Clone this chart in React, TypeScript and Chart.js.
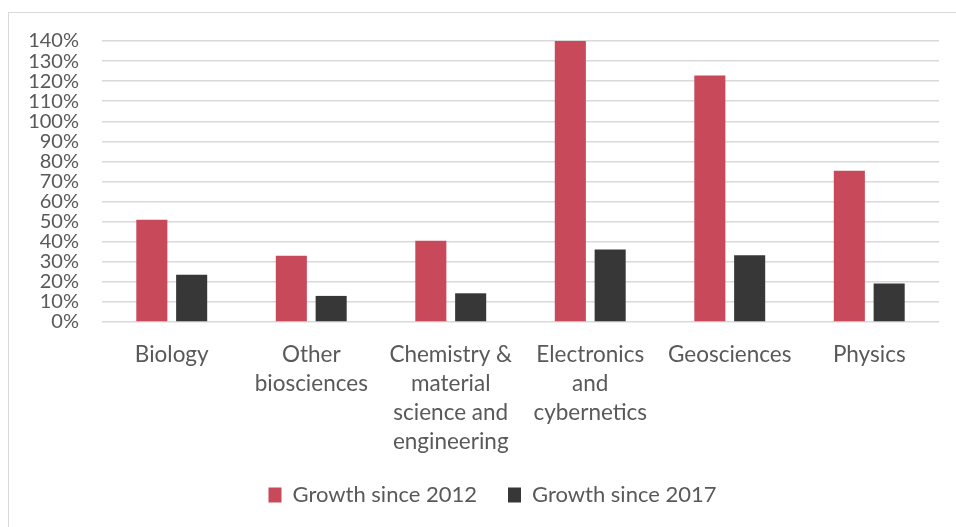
import React, { useEffect, useRef } from "react";
import { Chart, registerables } from "chart.js";

Chart.register(...registerables);

const categories: (string | string[])[] = [
  "Biology",
  ["Other", "biosciences"],
  ["Chemistry &", "material", "science and", "engineering"],
  ["Electronics", "and", "cybernetics"],
  "Geosciences",
  "Physics",
];
const growthSince2012 = [51, 33, 40.5, 140, 122.8, 75.3];
const growthSince2017 = [23.5, 13, 14.3, 36.1, 33.3, 19.2];
const seriesLabels = ["Growth since 2012", "Growth since 2017"];
const yMin = 0;
const yMax = 140;
const yStep = 10;

const FONT = "Lato, 'Open Sans', sans-serif";
const TEXT = "#595959";

export default function App() {
  const ref = useRef<HTMLCanvasElement | null>(null);
  useEffect(() => {
    if (!ref.current) return;
    const chart = new Chart(ref.current, {
      type: "bar",
      data: {
        labels: categories,
        datasets: [
          {
            label: seriesLabels[0],
            data: growthSince2012,
            backgroundColor: "#C8495A",
            borderWidth: 0,
            categoryPercentage: 0.571,
            barPercentage: 0.78,
          },
          {
            label: seriesLabels[1],
            data: growthSince2017,
            backgroundColor: "#373737",
            borderWidth: 0,
            categoryPercentage: 0.571,
            barPercentage: 0.78,
          },
        ],
      },
      options: {
        animation: false,
        responsive: false,
        maintainAspectRatio: false,
        layout: { padding: { left: 29, right: 0, top: 41, bottom: 11 } },
        plugins: {
          tooltip: { enabled: false },
          legend: {
            position: "bottom",
            labels: {
              color: TEXT,
              font: { family: FONT, size: 22 },
              boxWidth: 13,
              boxHeight: 15,
              padding: 31,
            },
          },
        },
        scales: {
          x: {
            grid: { display: false, drawTicks: false },
            border: { display: false },
            ticks: {
              color: TEXT,
              font: { family: FONT, size: 22.5, lineHeight: 1.29 },
              padding: 18,
              maxRotation: 0,
              autoSkip: false,
            },
            afterFit: (scale: any) => {
              scale.height = 131;
            },
          },
          y: {
            min: yMin,
            max: yMax,
            grid: { color: "#d9d9d9", lineWidth: 1.5, drawTicks: false },
            border: { display: false },
            ticks: {
              stepSize: yStep,
              autoSkip: false,
              color: TEXT,
              font: { family: FONT, size: 20 },
              padding: 23,
              callback: (v: any) => `${v}%`,
            },
            afterFit: (scale: any) => {
              scale.width = 73;
            },
          },
          yRight: {
            position: "right",
            display: true,
            grid: { display: false, drawTicks: false },
            border: { display: false },
            ticks: { display: false },
            afterFit: (scale: any) => {
              scale.width = 17;
            },
          },
        },
      },
    });
    return () => chart.destroy();
  }, []);

  return (
    <div style={{ position: "fixed", left: 0, top: 0, width: 956, height: 527, background: "#fff", overflow: "hidden" }}>
      <div
        style={{
          position: "absolute",
          left: 8,
          top: 12,
          width: 1000,
          height: 600,
          borderLeft: "1px solid #d9d9d9",
          borderTop: "1px solid #d9d9d9",
        }}
      />
      <canvas ref={ref} width={956} height={527} style={{ position: "absolute", left: 0, top: 0, width: 956, height: 527 }} />
    </div>
  );
}
